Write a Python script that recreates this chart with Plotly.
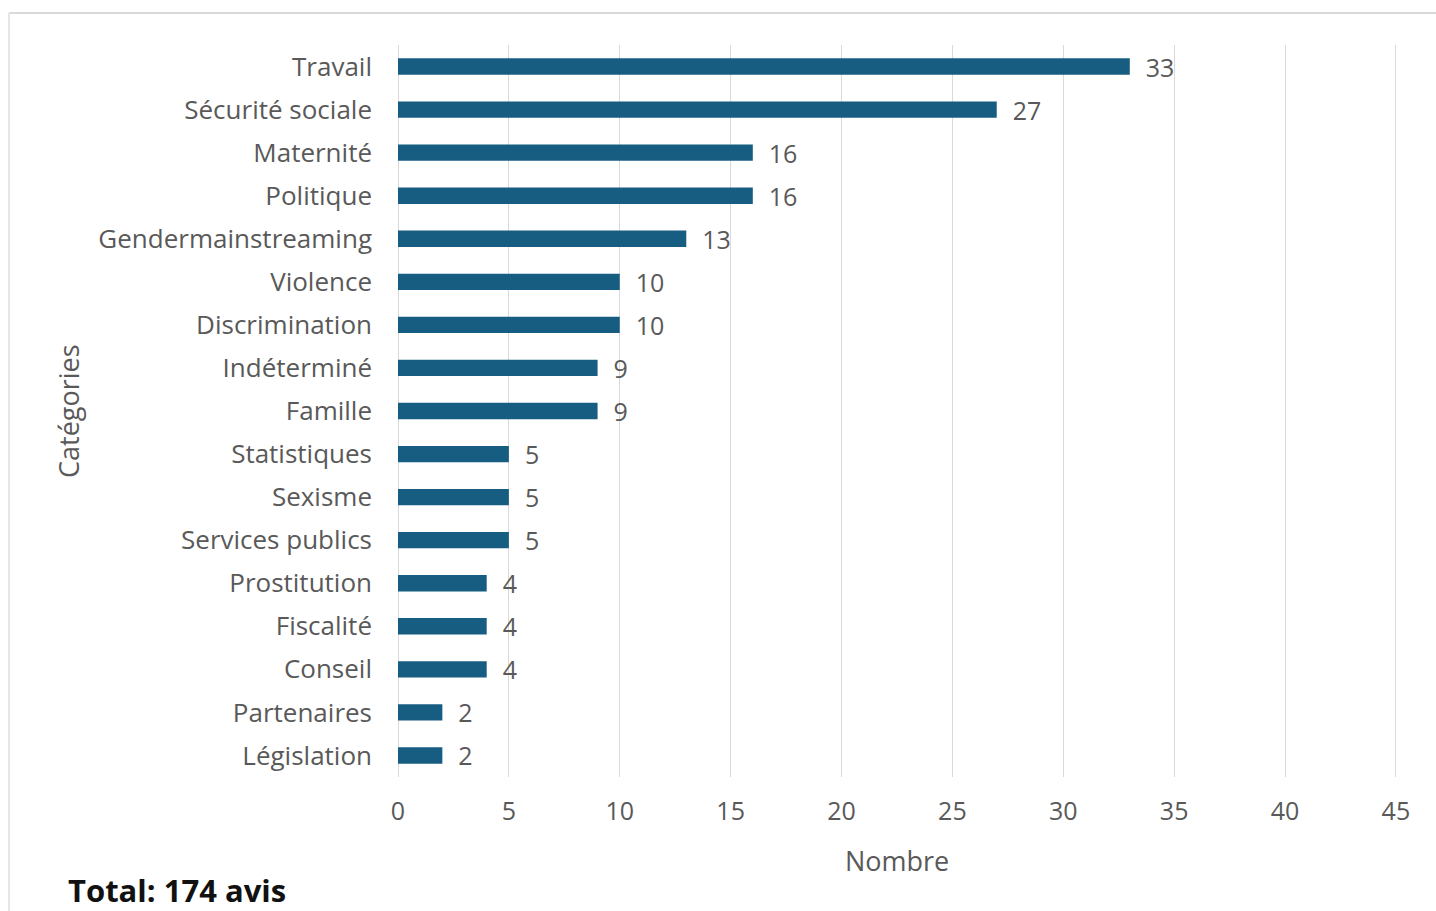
import plotly.graph_objects as go

categories = ["Travail", "Sécurité sociale", "Maternité", "Politique", "Gendermainstreaming",
              "Violence", "Discrimination", "Indéterminé", "Famille", "Statistiques", "Sexisme",
              "Services publics", "Prostitution", "Fiscalité", "Conseil", "Partenaires", "Législation"]
values = [33, 27, 16, 16, 13, 10, 10, 9, 9, 5, 5, 5, 4, 4, 4, 2, 2]
x_ticks = [0, 5, 10, 15, 20, 25, 30, 35, 40, 45]

FONT = "Open Sans, Roboto, sans-serif"
GRAY = "#595959"

fig = go.Figure(go.Bar(
    y=categories, x=values, orientation="h",
    marker=dict(color="#175D82", line=dict(width=0)),
    width=0.38,
    text=values, texttemplate="  %{text}", textposition="outside",
    constraintext="none",
    textfont=dict(size=25, color=GRAY, family=FONT),
    cliponaxis=False,
))

fig.update_layout(
    width=1436, height=911,
    margin=dict(l=398, r=39, t=45, b=134),
    paper_bgcolor="white", plot_bgcolor="white",
    showlegend=False,
    font=dict(family=FONT, color=GRAY, size=22),
    xaxis=dict(range=[0, 45.05], tickvals=x_ticks, showgrid=True, gridcolor="#d9d9d9", gridwidth=1,
               zeroline=True, zerolinecolor="#d9d9d9", zerolinewidth=1,
               tickfont=dict(size=25, color=GRAY), ticks="", ticklabelstandoff=17),
    yaxis=dict(autorange="reversed", tickfont=dict(size=26, color=GRAY), ticks="",
               ticklabelstandoff=25, showgrid=False, showline=False),
    shapes=[
        dict(type="line", xref="paper", yref="paper", x0=-0.3894, x1=1.04, y0=1.0437, y1=1.0437,
             line=dict(color="#d9d9d9", width=2)),
        dict(type="line", xref="paper", yref="paper", x0=-0.3894, x1=-0.3894, y0=1.0437, y1=-0.2,
             line=dict(color="#e6e6e6", width=2)),
    ],
    annotations=[
        dict(text="Catégories", xref="paper", yref="paper", x=(68 - 398) / 999, y=(777 - 411) / 732,
             textangle=-90, showarrow=False, font=dict(size=27, color=GRAY), xanchor="center", yanchor="middle"),
        dict(text="Nombre", xref="paper", yref="paper", x=(897 - 398) / 999, y=(777 - 860) / 732,
             showarrow=False, font=dict(size=27, color=GRAY), xanchor="center", yanchor="middle"),
        dict(text="<b>Total: 174 avis</b>", xref="paper", yref="paper", x=(66 - 398) / 999,
             y=(777 - 890) / 732, showarrow=False, font=dict(size=31, color="#111111", family=FONT),
             xanchor="left", yanchor="middle"),
    ],
)

fig.write_html("out.html")
